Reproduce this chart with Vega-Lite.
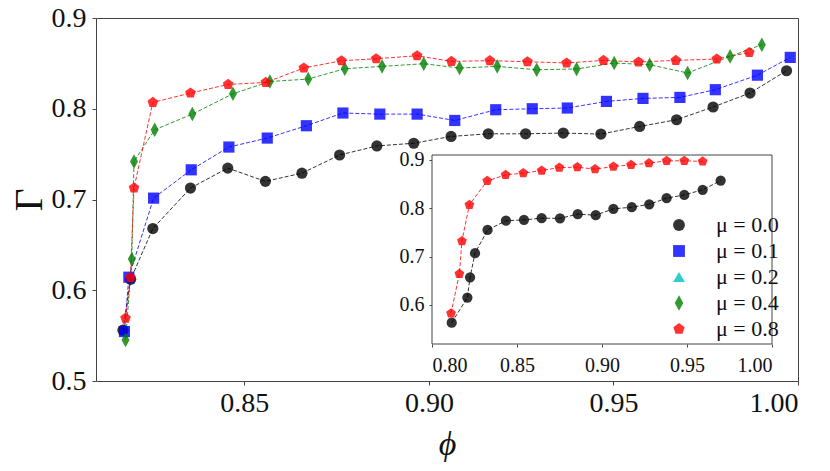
{
  "$schema": "https://vega.github.io/schema/vega-lite/v6.json",
  "width": 702,
  "height": 363,
  "autosize": {"type": "none"},
  "padding": {"left": 96, "top": 18, "right": 32, "bottom": 90},
  "background": "white",
  "datasets": {
    "main": [
      {"phi": 0.8171, "gamma": 0.556, "mu": "μ = 0.0"},
      {"phi": 0.8192, "gamma": 0.612, "mu": "μ = 0.0"},
      {"phi": 0.8252, "gamma": 0.668, "mu": "μ = 0.0"},
      {"phi": 0.8354, "gamma": 0.7126, "mu": "μ = 0.0"},
      {"phi": 0.8455, "gamma": 0.7346, "mu": "μ = 0.0"},
      {"phi": 0.8557, "gamma": 0.720, "mu": "μ = 0.0"},
      {"phi": 0.8656, "gamma": 0.729, "mu": "μ = 0.0"},
      {"phi": 0.8758, "gamma": 0.749, "mu": "μ = 0.0"},
      {"phi": 0.8859, "gamma": 0.759, "mu": "μ = 0.0"},
      {"phi": 0.8959, "gamma": 0.762, "mu": "μ = 0.0"},
      {"phi": 0.9060, "gamma": 0.7695, "mu": "μ = 0.0"},
      {"phi": 0.9161, "gamma": 0.7724, "mu": "μ = 0.0"},
      {"phi": 0.9262, "gamma": 0.7724, "mu": "μ = 0.0"},
      {"phi": 0.9364, "gamma": 0.7732, "mu": "μ = 0.0"},
      {"phi": 0.9466, "gamma": 0.7721, "mu": "μ = 0.0"},
      {"phi": 0.9571, "gamma": 0.7805, "mu": "μ = 0.0"},
      {"phi": 0.9671, "gamma": 0.7879, "mu": "μ = 0.0"},
      {"phi": 0.9770, "gamma": 0.8019, "mu": "μ = 0.0"},
      {"phi": 0.9870, "gamma": 0.8173, "mu": "μ = 0.0"},
      {"phi": 0.9969, "gamma": 0.8419, "mu": "μ = 0.0"},
      {"phi": 0.8175, "gamma": 0.5545, "mu": "μ = 0.1"},
      {"phi": 0.8187, "gamma": 0.6144, "mu": "μ = 0.1"},
      {"phi": 0.8254, "gamma": 0.7015, "mu": "μ = 0.1"},
      {"phi": 0.8356, "gamma": 0.7327, "mu": "μ = 0.1"},
      {"phi": 0.8458, "gamma": 0.7578, "mu": "μ = 0.1"},
      {"phi": 0.8562, "gamma": 0.7677, "mu": "μ = 0.1"},
      {"phi": 0.8668, "gamma": 0.7813, "mu": "μ = 0.1"},
      {"phi": 0.8767, "gamma": 0.7953, "mu": "μ = 0.1"},
      {"phi": 0.8867, "gamma": 0.7941, "mu": "μ = 0.1"},
      {"phi": 0.8968, "gamma": 0.7941, "mu": "μ = 0.1"},
      {"phi": 0.9070, "gamma": 0.7871, "mu": "μ = 0.1"},
      {"phi": 0.9181, "gamma": 0.7989, "mu": "μ = 0.1"},
      {"phi": 0.9280, "gamma": 0.800, "mu": "μ = 0.1"},
      {"phi": 0.9375, "gamma": 0.8008, "mu": "μ = 0.1"},
      {"phi": 0.9481, "gamma": 0.8081, "mu": "μ = 0.1"},
      {"phi": 0.9580, "gamma": 0.8114, "mu": "μ = 0.1"},
      {"phi": 0.9680, "gamma": 0.8125, "mu": "μ = 0.1"},
      {"phi": 0.9776, "gamma": 0.821, "mu": "μ = 0.1"},
      {"phi": 0.9890, "gamma": 0.837, "mu": "μ = 0.1"},
      {"phi": 0.9979, "gamma": 0.8566, "mu": "μ = 0.1"},
      {"phi": 0.8178, "gamma": 0.5453, "mu": "μ = 0.4"},
      {"phi": 0.8195, "gamma": 0.6343, "mu": "μ = 0.4"},
      {"phi": 0.8201, "gamma": 0.7419, "mu": "μ = 0.4"},
      {"phi": 0.8257, "gamma": 0.7768, "mu": "μ = 0.4"},
      {"phi": 0.8359, "gamma": 0.7941, "mu": "μ = 0.4"},
      {"phi": 0.8469, "gamma": 0.8165, "mu": "μ = 0.4"},
      {"phi": 0.8569, "gamma": 0.830, "mu": "μ = 0.4"},
      {"phi": 0.8673, "gamma": 0.8327, "mu": "μ = 0.4"},
      {"phi": 0.8772, "gamma": 0.8441, "mu": "μ = 0.4"},
      {"phi": 0.8873, "gamma": 0.8467, "mu": "μ = 0.4"},
      {"phi": 0.8986, "gamma": 0.8496, "mu": "μ = 0.4"},
      {"phi": 0.9083, "gamma": 0.8449, "mu": "μ = 0.4"},
      {"phi": 0.9185, "gamma": 0.8467, "mu": "μ = 0.4"},
      {"phi": 0.9292, "gamma": 0.843, "mu": "μ = 0.4"},
      {"phi": 0.9400, "gamma": 0.8438, "mu": "μ = 0.4"},
      {"phi": 0.9502, "gamma": 0.8504, "mu": "μ = 0.4"},
      {"phi": 0.9598, "gamma": 0.8485, "mu": "μ = 0.4"},
      {"phi": 0.9701, "gamma": 0.8394, "mu": "μ = 0.4"},
      {"phi": 0.9816, "gamma": 0.8577, "mu": "μ = 0.4"},
      {"phi": 0.9902, "gamma": 0.8706, "mu": "μ = 0.4"},
      {"phi": 0.8178, "gamma": 0.5692, "mu": "μ = 0.8"},
      {"phi": 0.8191, "gamma": 0.614, "mu": "μ = 0.8"},
      {"phi": 0.8201, "gamma": 0.7126, "mu": "μ = 0.8"},
      {"phi": 0.8252, "gamma": 0.807, "mu": "μ = 0.8"},
      {"phi": 0.8354, "gamma": 0.8173, "mu": "μ = 0.8"},
      {"phi": 0.8456, "gamma": 0.8268, "mu": "μ = 0.8"},
      {"phi": 0.8558, "gamma": 0.829, "mu": "μ = 0.8"},
      {"phi": 0.8661, "gamma": 0.8449, "mu": "μ = 0.8"},
      {"phi": 0.8763, "gamma": 0.8529, "mu": "μ = 0.8"},
      {"phi": 0.8857, "gamma": 0.8551, "mu": "μ = 0.8"},
      {"phi": 0.8968, "gamma": 0.8584, "mu": "μ = 0.8"},
      {"phi": 0.9061, "gamma": 0.8522, "mu": "μ = 0.8"},
      {"phi": 0.9165, "gamma": 0.853, "mu": "μ = 0.8"},
      {"phi": 0.9267, "gamma": 0.8518, "mu": "μ = 0.8"},
      {"phi": 0.9373, "gamma": 0.8504, "mu": "μ = 0.8"},
      {"phi": 0.9473, "gamma": 0.8533, "mu": "μ = 0.8"},
      {"phi": 0.9568, "gamma": 0.8515, "mu": "μ = 0.8"},
      {"phi": 0.9669, "gamma": 0.8533, "mu": "μ = 0.8"},
      {"phi": 0.9780, "gamma": 0.8548, "mu": "μ = 0.8"},
      {"phi": 0.9868, "gamma": 0.862, "mu": "μ = 0.8"}
    ],
    "inset": [
      {"phi": 0.8116, "gamma": 0.563, "mu": "μ = 0.0"},
      {"phi": 0.8208, "gamma": 0.615, "mu": "μ = 0.0"},
      {"phi": 0.8224, "gamma": 0.657, "mu": "μ = 0.0"},
      {"phi": 0.8253, "gamma": 0.707, "mu": "μ = 0.0"},
      {"phi": 0.8327, "gamma": 0.755, "mu": "μ = 0.0"},
      {"phi": 0.8435, "gamma": 0.774, "mu": "μ = 0.0"},
      {"phi": 0.8541, "gamma": 0.7758, "mu": "μ = 0.0"},
      {"phi": 0.8645, "gamma": 0.7793, "mu": "μ = 0.0"},
      {"phi": 0.8753, "gamma": 0.779, "mu": "μ = 0.0"},
      {"phi": 0.8857, "gamma": 0.7876, "mu": "μ = 0.0"},
      {"phi": 0.8963, "gamma": 0.7855, "mu": "μ = 0.0"},
      {"phi": 0.9067, "gamma": 0.7986, "mu": "μ = 0.0"},
      {"phi": 0.9175, "gamma": 0.802, "mu": "μ = 0.0"},
      {"phi": 0.9278, "gamma": 0.808, "mu": "μ = 0.0"},
      {"phi": 0.9380, "gamma": 0.8206, "mu": "μ = 0.0"},
      {"phi": 0.9484, "gamma": 0.8275, "mu": "μ = 0.0"},
      {"phi": 0.9592, "gamma": 0.838, "mu": "μ = 0.0"},
      {"phi": 0.9698, "gamma": 0.857, "mu": "μ = 0.0"},
      {"phi": 0.8112, "gamma": 0.5826, "mu": "μ = 0.8"},
      {"phi": 0.8161, "gamma": 0.664, "mu": "μ = 0.8"},
      {"phi": 0.8176, "gamma": 0.732, "mu": "μ = 0.8"},
      {"phi": 0.8220, "gamma": 0.807, "mu": "μ = 0.8"},
      {"phi": 0.8325, "gamma": 0.8565, "mu": "μ = 0.8"},
      {"phi": 0.8433, "gamma": 0.869, "mu": "μ = 0.8"},
      {"phi": 0.8537, "gamma": 0.8724, "mu": "μ = 0.8"},
      {"phi": 0.8645, "gamma": 0.8779, "mu": "μ = 0.8"},
      {"phi": 0.8749, "gamma": 0.884, "mu": "μ = 0.8"},
      {"phi": 0.8855, "gamma": 0.8848, "mu": "μ = 0.8"},
      {"phi": 0.8959, "gamma": 0.8807, "mu": "μ = 0.8"},
      {"phi": 0.9067, "gamma": 0.8862, "mu": "μ = 0.8"},
      {"phi": 0.9171, "gamma": 0.8896, "mu": "μ = 0.8"},
      {"phi": 0.9276, "gamma": 0.893, "mu": "μ = 0.8"},
      {"phi": 0.9380, "gamma": 0.898, "mu": "μ = 0.8"},
      {"phi": 0.9484, "gamma": 0.898, "mu": "μ = 0.8"},
      {"phi": 0.9592, "gamma": 0.8966, "mu": "μ = 0.8"}
    ]
  },
  "layer": [
    {
      "data": {"name": "main"},
      "encoding": {
        "x": {
          "field": "phi",
          "type": "quantitative",
          "scale": {"domain": [0.8098, 1.0], "nice": false, "zero": false},
          "axis": {
            "orient": "bottom",
            "values": [0.85, 0.9, 0.95, 1.0],
            "format": ".2f",
            "title": "ϕ",
            "titleFontSize": 34,
            "titleFontStyle": "italic",
            "titleFontWeight": "normal",
            "titlePadding": 10,
            "labelFontSize": 28,
            "labelPadding": 4
          }
        },
        "y": {
          "field": "gamma",
          "type": "quantitative",
          "scale": {"domain": [0.5, 0.9], "nice": false, "zero": false},
          "axis": {
            "orient": "left",
            "values": [0.5, 0.6, 0.7, 0.8, 0.9],
            "format": ".1f",
            "title": "Γ",
            "titleFontSize": 40,
            "titleFontWeight": "normal",
            "titlePadding": 2,
            "labelFontSize": 28,
            "labelPadding": 6
          }
        }
      },
      "layer": [
        {
          "mark": {"type": "line", "strokeWidth": 1, "strokeDash": [4, 2], "strokeOpacity": 0.8},
          "encoding": {
            "stroke": {
              "field": "mu",
              "type": "nominal",
              "scale": {
                "domain": ["μ = 0.8", "μ = 0.4", "μ = 0.2", "μ = 0.1", "μ = 0.0"],
                "range": ["#ff0000", "#008000", "#00bfbf", "#0000ff", "#000000"]
              },
              "legend": null
            }
          }
        },
        {
          "mark": {"type": "point", "filled": true, "opacity": 0.8, "size": 125},
          "encoding": {
            "color": {
              "field": "mu",
              "type": "nominal",
              "scale": {
                "domain": ["μ = 0.0", "μ = 0.1", "μ = 0.2", "μ = 0.4", "μ = 0.8"],
                "range": ["#000000", "#0000ff", "#00bfbf", "#008000", "#ff0000"]
              },
              "legend": {
                "orient": "none",
                "legendX": 572,
                "legendY": 196,
                "title": null,
                "padding": 0,
                "labelFontSize": 22,
                "labelOffset": 26,
                "rowPadding": 4,
                "symbolSize": 140,
                "symbolOpacity": 0.8
              }
            },
            "shape": {
              "field": "mu",
              "type": "nominal",
              "scale": {
                "domain": ["μ = 0.0", "μ = 0.1", "μ = 0.2", "μ = 0.4", "μ = 0.8"],
                "range": [
                  "circle",
                  "square",
                  "triangle-up",
                  "M0,-1.3L0.72,0L0,1.3L-0.72,0Z",
                  "M0,-1L0.951,-0.309L0.588,0.809L-0.588,0.809L-0.951,-0.309Z"
                ]
              }
            }
          }
        }
      ]
    },
    {
      "resolve": {"axis": {"x": "independent", "y": "independent"}},
      "layer": [
        {
          "data": {"values": [{}]},
          "mark": {"type": "rect", "fill": "white", "stroke": "#444444", "strokeWidth": 1},
          "encoding": {
            "x": {"datum": 0.8, "type": "quantitative", "scale": {"domain": [0.8, 1.0], "range": [336, 676], "nice": false, "zero": false}, "axis": null},
            "x2": {"datum": 1.0},
            "y": {"datum": 0.519, "type": "quantitative", "scale": {"domain": [0.519, 0.91], "range": [326, 137], "nice": false, "zero": false}, "axis": null},
            "y2": {"datum": 0.91}
          }
        },
        {
          "data": {"name": "inset"},
          "mark": {"type": "line", "strokeWidth": 1, "strokeDash": [4, 2], "strokeOpacity": 0.8},
          "encoding": {
            "x": {
              "field": "phi",
              "type": "quantitative",
              "scale": {"domain": [0.8, 1.0], "range": [336, 676], "nice": false, "zero": false},
              "axis": {
                "orient": "bottom",
                "offset": -37,
                "values": [0.8, 0.85, 0.9, 0.95, 1.0],
                "format": ".2f",
                "title": null,
                "domain": false,
                "labelFontSize": 20,
                "labelPadding": 8,
                "tickSize": 3
              }
            },
            "y": {
              "field": "gamma",
              "type": "quantitative",
              "scale": {"domain": [0.519, 0.91], "range": [326, 137], "nice": false, "zero": false},
              "axis": {
                "orient": "left",
                "offset": -336,
                "values": [0.6, 0.7, 0.8, 0.9],
                "format": ".1f",
                "title": null,
                "domain": false,
                "labelFontSize": 20,
                "labelPadding": 5,
                "tickSize": 3
              }
            },
            "stroke": {
              "field": "mu",
              "type": "nominal",
              "legend": null
            }
          }
        },
        {
          "data": {"name": "inset"},
          "mark": {"type": "point", "filled": true, "opacity": 0.8, "size": 105},
          "encoding": {
            "x": {"field": "phi", "type": "quantitative", "axis": null},
            "y": {"field": "gamma", "type": "quantitative", "axis": null},
            "color": {"field": "mu", "type": "nominal"},
            "shape": {"field": "mu", "type": "nominal"}
          }
        }
      ]
    }
  ],
  "resolve": {
    "scale": {"x": "independent", "y": "independent"},
    "axis": {"x": "independent", "y": "independent"}
  },
  "config": {
    "view": {"stroke": "#444444", "strokeWidth": 1},
    "font": "Liberation Serif",
    "axis": {
      "grid": false,
      "domain": false,
      "tickColor": "#444444",
      "tickSize": 4,
      "labelColor": "#111111",
      "titleColor": "#111111",
      "labelFont": "Liberation Serif",
      "titleFont": "Liberation Serif"
    },
    "legend": {
      "labelFont": "Liberation Serif",
      "labelFontSize": 22,
      "labelColor": "#111111",
      "labelLimit": 200
    }
  }
}
